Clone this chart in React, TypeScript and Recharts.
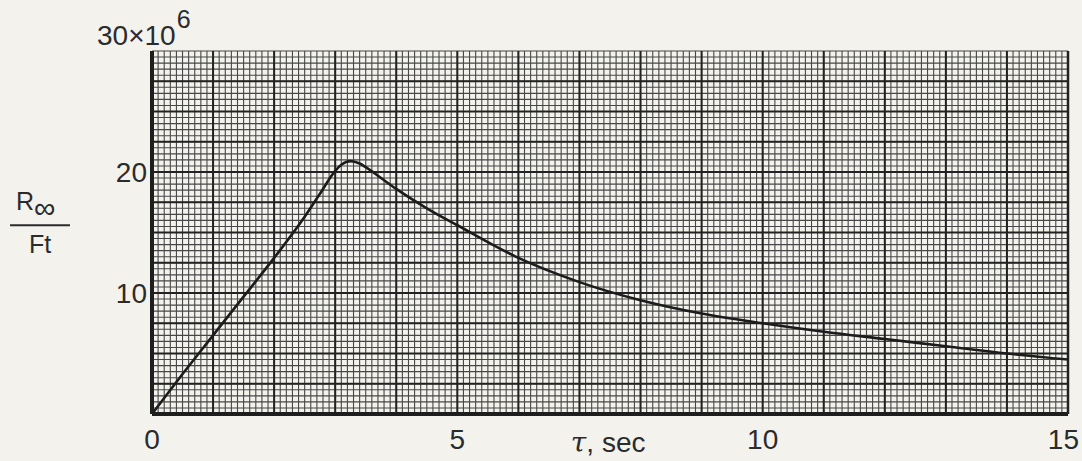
import React from "react";
import { LineChart, Line, XAxis, YAxis, CartesianGrid, ReferenceLine, Label } from "recharts";

// Resistance ratio R∞/Ft (×10^6) versus time τ (sec)
const timeSec = [0, 0.5, 1, 1.5, 2, 2.5, 2.75, 3, 3.1, 3.25, 3.4, 3.5, 3.75, 4, 4.5, 5, 6, 7, 8, 9, 10, 11, 12, 13, 14, 15];
const resistanceRatio = [0, 3.3, 6.5, 9.7, 12.9, 16.3, 18.2, 20.1, 20.6, 20.9, 20.7, 20.4, 19.5, 18.6, 17.0, 15.6, 12.9, 10.9, 9.4, 8.3, 7.5, 6.8, 6.2, 5.6, 5.0, 4.5];

const xTickLabels = [0, 5, 10, 15];
const yTickLabels = [10, 20, 30];

// Graph-paper rulings: fine lines every 0.1 s / 0.5 units, heavy lines every 1 s / 2.5 units
const xFineRulings = Array.from({ length: 151 }, (_, i) => i / 10);
const yFineRulings = Array.from({ length: 61 }, (_, i) => i / 2);
const xHeavyRulings = Array.from({ length: 14 }, (_, i) => i + 1);
const yHeavyRulings = Array.from({ length: 11 }, (_, i) => (i + 1) * 2.5);

const data = timeSec.map((t, i) => ({ t, r: resistanceRatio[i] }));

const FONT = "'Liberation Sans', 'DejaVu Sans', sans-serif";
const INK = "#2b2b2b";

const XTick = (props: any) => {
  const { x, y, payload } = props;
  if (!xTickLabels.includes(payload.value)) return <g />;
  const last = payload.value === 15;
  return (
    <text
      x={last ? x + 11 : x}
      y={y + 35}
      textAnchor={last ? "end" : "middle"}
      fontFamily={FONT}
      fontSize={28}
      fill={INK}
    >
      {payload.value}
    </text>
  );
};

const YTick = (props: any) => {
  const { x, y, payload } = props;
  if (!yTickLabels.includes(payload.value)) return <g />;
  if (payload.value === 30) {
    return (
      <text x={x - 55} y={y - 6} fontFamily={FONT} fontSize={28} fill={INK}>
        30×10
        <tspan dx={1} dy={-17} fontSize={25}>6</tspan>
      </text>
    );
  }
  return (
    <text x={x - 5} y={y + 10} textAnchor="end" fontFamily={FONT} fontSize={28} fill={INK}>
      {payload.value}
    </text>
  );
};

const YTitle = (props: any) => {
  const vb = props.viewBox || { x: 0, y: 0, height: 0 };
  const cy = vb.y + vb.height * 0.48;
  return (
    <g>
      <text x={16} y={cy - 15} fontFamily={FONT} fontSize={25} fill={INK}>
        R
        <tspan dy={8} fontSize={30}>∞</tspan>
      </text>
      <line x1={10} x2={70} y1={cy} y2={cy} stroke={INK} strokeWidth={2} />
      <text x={40} y={cy + 28} textAnchor="middle" fontFamily={FONT} fontSize={25} fill={INK}>
        Ft
      </text>
    </g>
  );
};

const XTitle = (props: any) => {
  const vb = props.viewBox || { x: 0, y: 0, width: 0 };
  return (
    <text x={vb.x + vb.width * 0.498} y={vb.y + 38} textAnchor="middle" fontFamily={FONT} fontSize={28} fill={INK}>
      <tspan fontFamily="'DejaVu Serif', serif" fontStyle="italic">τ</tspan>, sec
    </text>
  );
};

export default function App() {
  return (
    <div style={{ position: "fixed", left: 0, top: 0, width: 1082, height: 461, background: "#f3f2ed" }}>
      <LineChart width={1082} height={461} data={data} margin={{ top: 51, right: 14, bottom: 0, left: 0 }}>
        <CartesianGrid stroke="#474747" strokeWidth={1.1} />
        <XAxis
          dataKey="t"
          type="number"
          domain={[0, 15]}
          ticks={xFineRulings}
          interval={0}
          height={47}
          tickSize={0}
          tickMargin={0}
          tick={<XTick />}
          axisLine={{ stroke: "#1e1e1e", strokeWidth: 4 }}
        >
          <Label content={<XTitle />} />
        </XAxis>
        <YAxis
          type="number"
          domain={[0, 30]}
          ticks={yFineRulings}
          interval={0}
          width={152}
          tickSize={0}
          tickMargin={0}
          tick={<YTick />}
          axisLine={{ stroke: "#1e1e1e", strokeWidth: 4 }}
        >
          <Label content={<YTitle />} />
        </YAxis>
        {xHeavyRulings.map((v) => (
          <ReferenceLine key={`vx${v}`} x={v} stroke="#222222" strokeWidth={2} />
        ))}
        {yHeavyRulings.map((v) => (
          <ReferenceLine key={`hy${v}`} y={v} stroke="#222222" strokeWidth={v === 30 ? 2.5 : 2} />
        ))}
        <ReferenceLine x={15} stroke="#222222" strokeWidth={2.5} />
        <Line
          dataKey="r"
          type="monotone"
          stroke="#1c1c1c"
          strokeWidth={2.6}
          dot={false}
          isAnimationActive={false}
        />
      </LineChart>
    </div>
  );
}
